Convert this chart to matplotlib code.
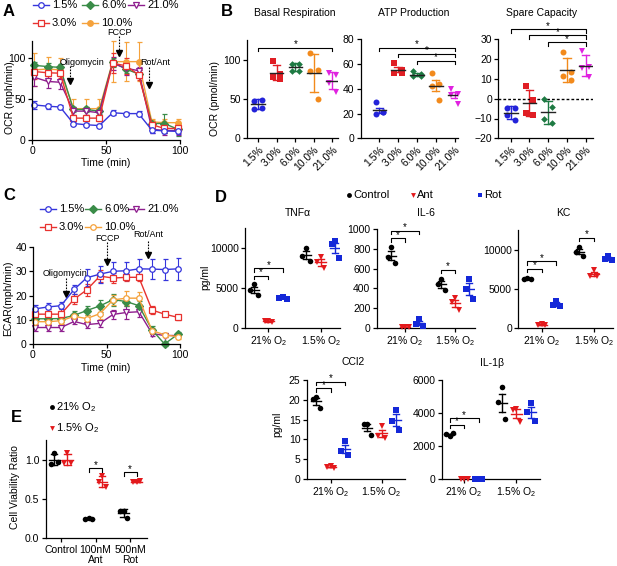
import numpy as np
import matplotlib.pyplot as plt
from matplotlib.lines import Line2D

plt.rcParams['font.family'] = ['Liberation Sans', 'DejaVu Sans']
plt.rcParams['mathtext.default'] = 'regular'
plt.rcParams['font.size'] = 7.5

# ---- data -------------------------------------------------------------
o2_labels = ['1.5%', '3.0%', '6.0%', '10.0%', '21.0%']

# A: OCR time course (mean, error)
time_pts = [1.5, 10.5, 19, 28, 36.5, 45.5, 54.5, 63.5, 72, 81, 89.5, 98.5]
ocr_15 = [42.5, 41, 40, 20, 18.5, 17.5, 33, 32, 32, 12, 11, 10.5]
ocr_15_err = [5, 3, 3, 2, 2, 2, 3, 2, 3, 3, 3, 3]
ocr_30 = [83, 81.5, 81, 26.5, 26.5, 26.5, 93, 90, 79, 18.5, 14, 14]
ocr_30_err = [9, 6, 6, 4, 4, 4, 12, 10, 6, 4, 5, 5]
ocr_60 = [90.5, 89, 88, 37, 37, 35, 94, 86, 80, 20, 20, 13]
ocr_60_err = [4, 4, 4, 3, 3, 3, 6, 5, 5, 3, 12, 8]
ocr_100 = [85, 86, 85, 38, 38, 38, 95, 95, 95, 22, 21, 21]
ocr_100_err = [20, 15, 15, 12, 12, 12, 25, 24, 24, 4, 4, 4]
ocr_210 = [76, 71, 70, 35, 35, 33, 93, 87, 84, 13, 11.5, 11.5]
ocr_210_err = [10, 8, 8, 5, 5, 5, 8, 8, 5, 5, 5, 5]

# C: ECAR time course
ecar_15 = [14.5, 15.3, 15.8, 22.5, 27.3, 28.8, 30, 30.2, 31, 30.9, 30.7, 31]
ecar_15_err = [1.5, 1.5, 1.5, 2, 3.5, 3.5, 3.8, 3.8, 4.2, 4.2, 4.2, 4.5]
ecar_30 = [12.3, 12.3, 12.3, 18.5, 22.3, 28, 27.2, 27.5, 27.5, 14, 12.3, 11]
ecar_30_err = [2, 2, 2, 2, 2.5, 2.5, 2, 1.5, 1.5, 1.5, 0.8, 1]
ecar_60 = [10.4, 10.4, 10.5, 11.8, 13.8, 15.7, 18.3, 17.5, 15.8, 5.8, 0, 4]
ecar_60_err = [1.5, 1.5, 1.5, 2, 2, 2.5, 2.5, 2, 2, 1.5, 1, 0.8]
ecar_100 = [9.2, 9.2, 9.6, 11.4, 10.5, 12.5, 18.2, 18.9, 18.9, 5.5, 3.8, 3]
ecar_100_err = [1.5, 1.5, 1.5, 1.5, 1.5, 2, 2, 3, 2.5, 1, 0.8, 0.8]
ecar_210 = [6.8, 6.8, 6.8, 9.3, 8, 8.5, 12.2, 13, 13.3, 4.3, 3.5, 3.5]
ecar_210_err = [1.5, 1.5, 1.5, 1, 1.5, 1.5, 2, 2.5, 2, 1, 0.8, 0.8]

# B: replicate values per O2 level
basal = [[37, 38, 48, 49], [98, 82, 78, 76], [95, 94, 86, 86],
         [108, 87, 86, 50], [83, 81, 70, 59]]
atp = [[29, 21, 20, 21], [61, 55, 53, 53], [54, 52, 50, 50],
       [53, 44, 42, 31], [40, 36, 35, 28]]
spare = [[-4.5, -4.5, -8, -11], [6.5, -0.5, -7, -8], [0, -4, -10.5, -12.5],
         [23.5, 13.5, 11.5, 9.5], [24, 16, 15.5, 11]]

# D: cytokines, [Control, Ant, Rot] at 21% and 1.5% O2
treat_labels = ['Control', 'Ant', 'Rot']
group_labels = ['21% O$_2$', '1.5% O$_2$']
tnfa_21 = [[5450, 4750, 4050], [880, 800, 760], [3900, 3700, 3650]]
tnfa_15 = [[10000, 9000, 8400], [8950, 8200, 7450], [10900, 10500, 8800]]
il6_21 = [[820, 720, 660], [8, 5, 3], [90, 40, 20]]
il6_15 = [[500, 440, 380], [300, 260, 180], [495, 395, 290]]
kc_21 = [[6400, 6300, 6250], [550, 420, 380], [3500, 2950, 2850]]
kc_15 = [[10300, 9750, 9150], [7400, 6700, 6650], [9200, 8750, 8650]]
ccl2_21 = [[20.6, 20.2, 18], [3.2, 3.0, 2.9], [9.6, 7.1, 6.0]]
ccl2_15 = [[14, 13.8, 11.2], [13.4, 10.8, 10.3], [17.5, 14.6, 12.3]]
il1b_21 = [[2600, 2750, 2780], [20, 15, 10], [20, 15, 10]]
il1b_15 = [[5550, 4650, 3650], [4250, 4200, 3450], [4600, 4050, 3500]]

# E: viability
e_groups = ['Control', '100nM\nAnt', '500nM\nRot']
via_21 = [[1.08, 0.95, 0.97], [0.26, 0.25, 0.24], [0.35, 0.35, 0.26]]
via_15 = [[1.08, 0.96, 0.96], [0.79, 0.71, 0.65], [0.72, 0.71, 0.73]]

# ---- helpers ----------------------------------------------------------
W, H = 617, 566
fig = plt.figure(figsize=(W / 100, H / 100), dpi=100)


def px_axes(l, t, r, b):
    return fig.add_axes([l / W, 1 - b / H, (r - l) / W, (b - t) / H])


def ftext(x, y, s, **kw):
    fig.text(x / W, 1 - y / H, s, **kw)


def prism(ax):
    for s in ['top', 'right']:
        ax.spines[s].set_visible(False)
    for s in ['left', 'bottom']:
        ax.spines[s].set_linewidth(0.9)
    ax.tick_params(length=3, width=0.9, pad=1.5, labelsize=7.5)


def leg_item(x0, y, color, marker, mfc, label, line=True):
    yf = 1 - y / H
    if line:
        fig.add_artist(Line2D([x0 / W, (x0 + 16) / W], [yf, yf], color=color,
                              lw=1, transform=fig.transFigure))
        fig.add_artist(Line2D([(x0 + 8) / W], [yf], color=color, marker=marker,
                              ms=4, mfc=mfc, mew=0.9, transform=fig.transFigure))
        ftext(x0 + 19, y, label, fontsize=8, va='center')
    else:
        fig.add_artist(Line2D([x0 / W], [yf], color=color, marker=marker, ms=3.5,
                              mew=0, transform=fig.transFigure))
        ftext(x0 + 4, y, label, fontsize=8, va='center')


def trace(ax, y, e, color, marker, filled):
    ax.errorbar(time_pts, y, yerr=e, color=color, marker=marker, ms=4,
                mfc=color if filled else 'white', mew=0.9, lw=1,
                elinewidth=0.8, capsize=1.8, capthick=0.8, clip_on=False)


def drug_arrow(ax, x, y0, y1, text, tx, ty):
    ax.plot([x, x], [y0, y1], color='k', ls=(0, (1.5, 1.2)), lw=0.8, clip_on=False)
    ax.plot([x], [y1], marker='v', color='k', ms=5, clip_on=False)
    ax.text(tx, ty, text, ha='center', va='center', fontsize=6.5)


def dot_group(ax, x, vals, color, marker, kind, mean_hw, cap_hw, jit,
              mean_color=None, ms=4):
    vals = np.asarray(vals, float)
    n = len(vals)
    xs = x + np.asarray(jit[:n])
    m = vals.mean()
    e = vals.std(ddof=1)
    if kind == 'sem':
        e = e / np.sqrt(n)
    ax.plot([x, x], [m - e, m + e], color=color, lw=1)
    for yy in (m - e, m + e):
        ax.plot([x - cap_hw, x + cap_hw], [yy, yy], color=color, lw=1)
    ax.plot(xs, vals, ls='none', marker=marker, color=color, ms=ms, mew=0,
            clip_on=False, zorder=3)
    ax.plot([x - mean_hw, x + mean_hw], [m, m], color=mean_color or color,
            lw=1, zorder=4)


def bracket(ax, x1, x2, y):
    lo, hi = ax.get_ylim()
    tick = 0.035 * (hi - lo)
    ax.plot([x1, x1, x2, x2], [y - tick, y, y, y - tick], color='k', lw=0.8,
            clip_on=False)
    ax.text((x1 + x2) / 2, y + 0.005 * (hi - lo), '*', ha='center',
            va='baseline', fontsize=7)


# ---- panel A ----------------------------------------------------------
c_blue, c_red, c_green, c_orange, c_purple = '#3535dc', '#e8322f', '#3a8c48', '#f5a23c', '#8e1d8e'
axA = px_axes(32, 41, 180, 140)
prism(axA)
trace(axA, ocr_100, ocr_100_err, c_orange, 'o', True)
trace(axA, ocr_60, ocr_60_err, c_green, 'D', True)
trace(axA, ocr_210, ocr_210_err, c_purple, 'v', False)
trace(axA, ocr_30, ocr_30_err, c_red, 's', False)
trace(axA, ocr_15, ocr_15_err, c_blue, 'o', False)
axA.set_xlim(0, 100)
axA.set_ylim(0, 120)
axA.set_xticks([0, 50, 100])
axA.set_yticks([0, 50, 100])
drug_arrow(axA, 25.7, 89.7, 71.7, 'Oligomycin', 34, 94.5)
drug_arrow(axA, 58.8, 125.6, 105.6, 'FCCP', 58.8, 130)
drug_arrow(axA, 79.3, 88.4, 67, 'Rot/Ant', 83, 93.6)
ftext(106, 163, 'Time (min)', ha='center', va='center', fontsize=7.5)
ftext(10, 98, 'OCR (mph/min)', rotation=90, ha='center', va='center', fontsize=7.5)

leg_item(33, 5, c_blue, 'o', 'white', '1.5%')
leg_item(82, 5, c_green, 'D', c_green, '6.0%')
leg_item(128, 5, c_purple, 'v', 'white', '21.0%')
leg_item(33, 23, c_red, 's', 'white', '3.0%')
leg_item(82, 23, c_orange, 'o', c_orange, '10.0%')

# ---- panel C ----------------------------------------------------------
axC = px_axes(33, 247, 180, 344)
prism(axC)
trace(axC, ecar_210, ecar_210_err, c_purple, 'v', False)
trace(axC, ecar_60, ecar_60_err, c_green, 'D', True)
trace(axC, ecar_100, ecar_100_err, c_orange, 'o', False)
trace(axC, ecar_30, ecar_30_err, c_red, 's', False)
trace(axC, ecar_15, ecar_15_err, c_blue, 'o', False)
axC.set_xlim(0, 100)
axC.set_ylim(0, 40)
axC.set_xticks([0, 50, 100])
axC.set_yticks([0, 10, 20, 30, 40])
drug_arrow(axC, 22.2, 27.4, 20.7, 'Oligomycin', 22, 28.9)
drug_arrow(axC, 50.5, 42, 33.9, 'FCCP', 51, 43.5)
drug_arrow(axC, 78, 42.5, 36.6, 'Rot/Ant', 78.4, 45)
ftext(106, 368, 'Time (min)', ha='center', va='center', fontsize=7.5)
ftext(8, 298, 'ECAR(mph/min)', rotation=90, ha='center', va='center', fontsize=7.5)

leg_item(40, 209, c_blue, 'o', 'white', '1.5%')
leg_item(85, 209, c_green, 'D', c_green, '6.0%')
leg_item(128, 209, c_purple, 'v', 'white', '21.0%')
leg_item(40, 227, c_red, 's', 'white', '3.0%')
leg_item(85, 227, c_orange, 'o', 'white', '10.0%')

# ---- panel B ----------------------------------------------------------
b_colors = ['#2323d9', '#e01e24', '#1e7a43', '#f28a1c', '#e022e0']
b_markers = ['o', 's', 'D', 'o', 'v']
b_specs = [
    (basal, 'sd', (247, 40, 338, 138.3), (-0.6, 4.3), (0, 125), [0, 50, 100],
     [(0, 4, 115)], 'Basal Respiration', 295),
    (atp, 'sem', (360.5, 39.3, 458.3, 138.3), (-1.0, 4.2), (0, 80), [0, 20, 40, 60, 80],
     [(0, 4, 73.3), (1, 4, 68.2), (2, 4, 62.8)], 'ATP Production', 414),
    (spare, 'sd', (498.3, 39.3, 593, 138.3), (-0.67, 4.4), (-20, 30),
     [-20, -10, 0, 10, 20, 30],
     [(0, 4, 35), (1, 4, 32), (2, 4, 28.5)], 'Spare Capacity', 542),
]
jit4 = [-0.2, 0.2, -0.2, 0.2]
for vals, kind, rect, xl, yl, yt, brs, title, tx in b_specs:
    ax = px_axes(*rect)
    prism(ax)
    ax.set_xlim(*xl)
    ax.set_ylim(*yl)
    ax.set_yticks(yt)
    for i, v in enumerate(vals):
        dot_group(ax, i, v, b_colors[i], b_markers[i], kind, 0.36, 0.2, jit4,
                  mean_color='#222222', ms=4.3 if b_markers[i] != 'D' else 3.4)
    ax.set_xticks(range(len(o2_labels)))
    ax.set_xticklabels(o2_labels, rotation=45, ha='right', va='top',
                       rotation_mode='anchor')
    for x1, x2, y in brs:
        bracket(ax, x1, x2, y)
    if yl[0] < 0:
        ax.axhline(0, color='k', ls=(0, (2, 1.5)), lw=1, xmax=1.0)
    ftext(tx, 13, title, ha='center', va='center', fontsize=7.5)
ftext(215, 98, 'OCR (pmol/min)', rotation=90, ha='center', va='center', fontsize=7.5)

# ---- panel D ----------------------------------------------------------
d_colors = ['black', '#e3191c', '#1428d8']
d_markers = ['o', 'v', 's']
d_off = [-0.28, 0.0, 0.28]
jit3 = [0.0, -0.07, 0.07]
d_specs = [
    (tnfa_21, tnfa_15, (245, 228.3, 340, 327.7), (-0.45, 1.37), (0, 12500),
     [0, 5000, 10000], [(0, 0, 1, 6500), (0, 0, 2, 7480)], 'TNF\u03b1', (298, 213)),
    (il6_21, il6_15, (376.7, 229.3, 475, 327.7), (-0.57, 1.4), (0, 1000),
     [0, 200, 400, 600, 800, 1000],
     [(0, 0, 1, 910), (0, 0, 2, 985), (1, 0, 1, 586)], 'IL-6', (426, 213)),
    (kc_21, kc_15, (518.3, 230, 613, 328.3), (-0.45, 1.37), (0, 12500),
     [0, 5000, 10000],
     [(0, 0, 1, 7570), (0, 0, 2, 8510), (1, 0, 1, 11500)], 'KC', (563, 213)),
    (ccl2_21, ccl2_15, (306.7, 380, 405, 479), (-0.47, 1.46), (0, 25),
     [0, 5, 10, 15, 20, 25], [(0, 0, 1, 22.9), (0, 0, 2, 24.6)], 'CCl2', (353, 362)),
    (il1b_21, il1b_15, (441.7, 380, 540, 479.3), (-0.43, 1.45), (0, 6000),
     [0, 2000, 4000, 6000], [(0, 0, 1, 3280), (0, 0, 2, 3680)], 'IL-1\u03b2', (492, 363)),
]
for d21, d15, rect, xl, yl, yt, brs, title, (tx, ty) in d_specs:
    ax = px_axes(*rect)
    prism(ax)
    ax.set_xlim(*xl)
    ax.set_ylim(*yl)
    ax.set_yticks(yt)
    for g, data in enumerate([d21, d15]):
        for k, v in enumerate(data):
            dot_group(ax, g + d_off[k], v, d_colors[k], d_markers[k], 'sem',
                      0.1, 0.06, jit3)
    ax.set_xticks([0, 1])
    ax.set_xticklabels(group_labels)
    for g, k1, k2, y in brs:
        bracket(ax, g + d_off[k1], g + d_off[k2], y)
    ftext(tx, ty, title, ha='center', va='center', fontsize=7.5)
ftext(205, 277, 'pg/ml', rotation=90, ha='center', va='center', fontsize=7.5)
ftext(277, 424, 'pg/ml', rotation=90, ha='center', va='center', fontsize=7.5)

leg_item(349, 195, 'black', 'o', 'black', treat_labels[0], line=False)
leg_item(413, 195, '#e3191c', 'v', '#e3191c', treat_labels[1], line=False)
leg_item(480, 195, '#1428d8', 's', '#1428d8', treat_labels[2], line=False)

# ---- panel E ----------------------------------------------------------
axE = px_axes(45.7, 440, 146.7, 538.3)
prism(axE)
axE.set_xlim(-0.44, 2.48)
axE.set_ylim(0, 1.25)
axE.set_yticks([0, 0.5, 1.0])
axE.set_yticklabels(['0.0', '0.5', '1.0'])
for g in range(3):
    dot_group(axE, g - 0.19, via_21[g], 'black', 'o', 'sd', 0.15, 0.09, [0.0, -0.1, 0.1])
    dot_group(axE, g + 0.19, via_15[g], '#e3191c', 'v', 'sd', 0.15, 0.09, [0.0, -0.1, 0.1])
axE.set_xticks([0, 1, 2])
axE.set_xticklabels(e_groups, linespacing=1.1)
bracket(axE, 1 - 0.19, 1 + 0.19, 0.89)
bracket(axE, 2 - 0.19, 2 + 0.19, 0.84)
ftext(15, 487, 'Cell Viability Ratio', rotation=90, ha='center', va='center', fontsize=7.5)
leg_item(51.7, 407, 'black', 'o', 'black', '21% O$_2$', line=False)
leg_item(51.7, 428, '#e3191c', 'v', '#e3191c', '1.5% O$_2$', line=False)

# ---- panel letters ----------------------------------------------------
for letter, (lx, ly) in zip('ABCDE', [(3, 12), (221, 12), (3, 196), (215, 198), (11, 417)]):
    ftext(lx, ly, letter, fontsize=12, fontweight='bold', va='center')

fig.savefig('out.png', dpi=100)
